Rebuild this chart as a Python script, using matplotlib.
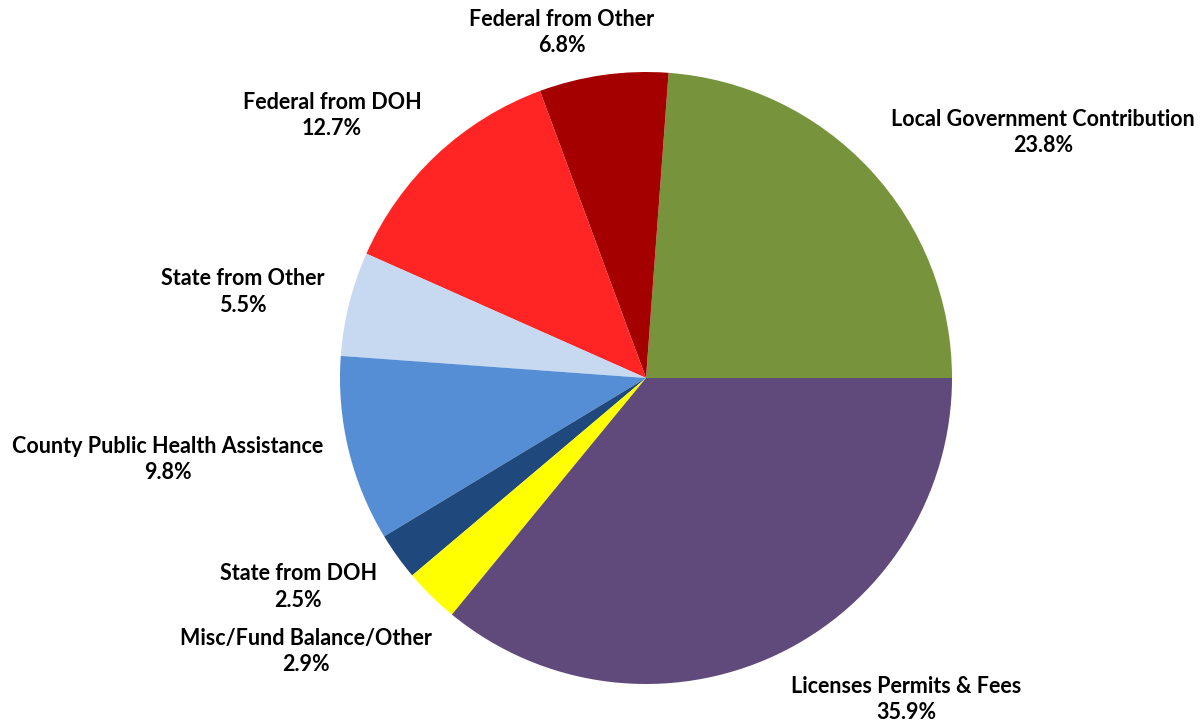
import matplotlib
matplotlib.use("Agg")
import matplotlib.pyplot as plt

# ========== ДАННЫЕ ==========
labels = [
    "Local Government Contribution",
    "Federal from Other",
    "Federal from DOH",
    "State from Other",
    "County Public Health Assistance",
    "State from DOH",
    "Misc/Fund Balance/Other",
    "Licenses Permits & Fees",
]
values = [23.8, 6.8, 12.7, 5.5, 9.8, 2.5, 2.9, 35.9]
colors = ["#77933C", "#A50000", "#FF2525", "#C6D9F1",
          "#558ED5", "#1F497D", "#FFFF00", "#604A7B"]

# label centres in pie-radius units (layout only)
label_pos = [(1.297, 0.801), (-0.275, 1.13), (-1.026, 0.859), (-1.317, 0.281),
             (-1.562, -0.265), (-1.137, -0.683), (-1.111, -0.895), (0.850, -1.052)]

# ========== ГРАФИК ==========
W, H = 1201, 725
CX, CY, R = 646, 378, 306
fig = plt.figure(figsize=(W / 100, H / 100), dpi=100)
ax = fig.add_axes([0, 0, 1, 1])

ax.pie(values, colors=colors, startangle=0, counterclock=True,
       radius=1.0, wedgeprops=dict(linewidth=0))

ax.set_xlim(-CX / R, (W - CX) / R)
ax.set_ylim(-(H - CY) / R, CY / R)
ax.set_aspect("auto")
ax.axis("off")

for lab, val, (x, y) in zip(labels, values, label_pos):
    ax.text(x, y, f"{lab}\n{val:.1f}%", ha="center", va="center",
            fontsize=15.5, fontweight="bold", family="Lato",
            linespacing=1.3, color="black")

fig.savefig("out.png", dpi=100)
